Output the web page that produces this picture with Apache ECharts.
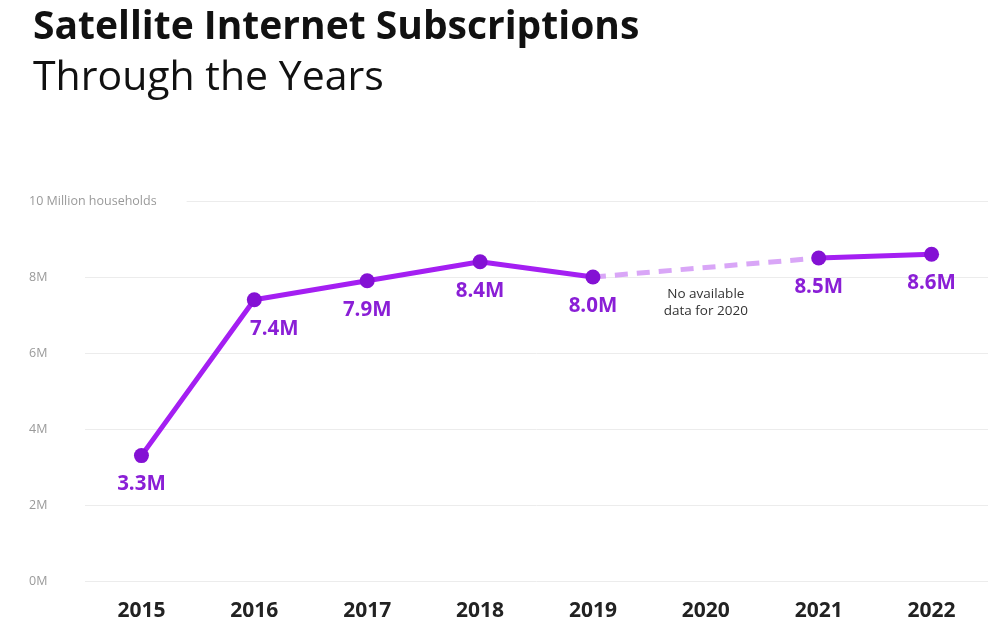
<!DOCTYPE html>
<html>
<head>
<meta charset="utf-8">
<script src="https://cdn.jsdelivr.net/npm/echarts@6/dist/echarts.min.js"></script>
<style>html,body{margin:0;padding:0;background:#fff}#c{width:998px;height:638px}</style>
</head>
<body>
<div id="c"></div>
<script>
var years = ['2015','2016','2017','2018','2019','2020','2021','2022'];
var subscriptions = [3.3, 7.4, 7.9, 8.4, 8.0, '-', 8.5, 8.6];
var gapBridge = ['-', '-', '-', '-', 8.0, '-', 8.5, '-'];
var yTicks = {0:'0M', 2:'2M', 4:'4M', 6:'6M', 8:'8M', 10:'10 Million households'};
var noteText = 'No available\ndata for 2020';

var FONT = '"Open Sans", "Noto Sans", sans-serif';
var chart = echarts.init(document.getElementById('c'));
var labelOffsets = {1:[20,0]};
chart.setOption({
  animation: false,
  backgroundColor: '#fff',
  title: [{
    text: 'Satellite Internet Subscriptions',
    left: 28, top: 3,
    textStyle: {fontFamily: FONT, fontSize: 39, fontWeight: 'bold', color: '#111'}
  }, {
    text: 'Through the Years',
    left: 28, top: 53,
    textStyle: {fontFamily: FONT, fontSize: 41, fontWeight: 'normal', color: '#111'}
  }],
  grid: {left: 85, right: 10, top: 201, bottom: 57},
  xAxis: {
    type: 'category',
    data: years,
    boundaryGap: true,
    axisLine: {show: false},
    axisTick: {show: false},
    axisLabel: {margin: 20, fontFamily: FONT, fontSize: 21, fontWeight: 'bold', color: '#222'}
  },
  yAxis: {
    type: 'value',
    min: 0, max: 10, interval: 2,
    axisLine: {show: false},
    axisTick: {show: false},
    splitLine: {lineStyle: {color: '#ececec', width: 1}},
    axisLabel: {
      align: 'left', margin: 56,
      fontFamily: FONT, fontSize: 12.5, color: '#9a9a9a',
      formatter: function (v) {
        if (v === 10) return '{big|' + yTicks[v] + '}';
        return yTicks[v];
      },
      rich: {big: {fontFamily: FONT, fontSize: 12.5, color: '#9a9a9a', backgroundColor: '#fff', padding: [3, 30, 3, 0]}}
    }
  },
  series: [{
    type: 'line',
    data: gapBridge,
    connectNulls: true,
    symbol: 'none',
    z: 1,
    lineStyle: {color: '#d9a6f7', width: 5, type: [13, 9]},
    markPoint: {
      symbol: 'circle', symbolSize: 0,
      data: [{coord: ['2020', 7.33], value: noteText}],
      label: {show: true, formatter: noteText, fontFamily: FONT, fontSize: 13.5, color: '#333', lineHeight: 17, align: 'center'}
    }
  }, {
    type: 'line',
    data: subscriptions.map(function (v, i) {
      var o = {value: v};
      if (labelOffsets[i]) o.label = {offset: labelOffsets[i]};
      return o;
    }),
    connectNulls: false,
    symbol: 'circle',
    symbolSize: 15,
    z: 3,
    itemStyle: {color: '#8411d4'},
    lineStyle: {color: '#a41ff2', width: 5},
    label: {
      show: true, position: 'bottom', distance: 11,
      formatter: function (p) { return p.value.toFixed(1) + 'M'; },
      fontFamily: FONT, fontSize: 20.5, fontWeight: 'bold', color: '#8a1fd6'
    }
  }]
});
</script>
</body>
</html>
